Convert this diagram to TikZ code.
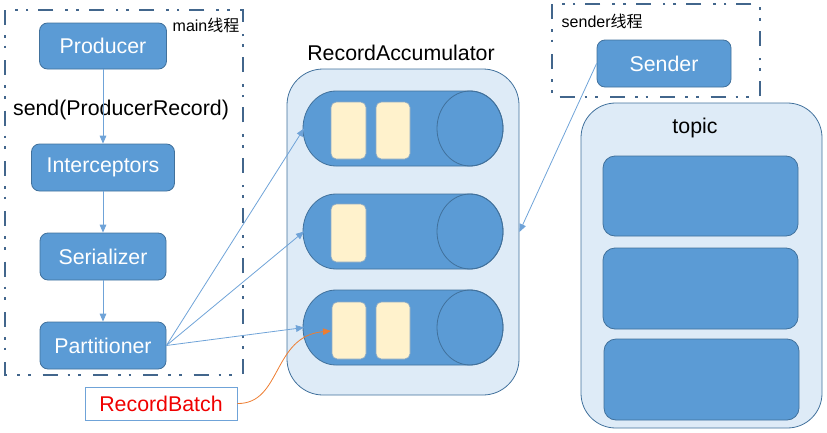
\documentclass[tikz,border=0pt]{standalone}
\usepackage{fontspec}
\setmainfont{Liberation Sans}
\newfontfamily\cjk{Noto Sans CJK SC}
\usetikzlibrary{arrows.meta}
\definecolor{mblue}{HTML}{5B9BD5}
\definecolor{dblue}{HTML}{41719C}
\definecolor{lblue}{HTML}{DEEBF7}
\definecolor{dashc}{HTML}{42668C}
\definecolor{cream}{HTML}{FFF2CC}
\definecolor{orng}{HTML}{ED7D31}
\definecolor{lnblue}{HTML}{6FA3D8}
\definecolor{rbred}{HTML}{F00000}
\tikzset{
  big/.style={font=\fontsize{16}{19}\selectfont},
  small/.style={font=\fontsize{12}{14}\selectfont},
  bluebox/.style={draw=dblue, fill=mblue, line width=0.6pt, rounded corners=6pt, text=white, big, inner sep=0pt},
  threadbox/.style={draw=dashc, line width=2pt, dash pattern=on 11.25pt off 7.5pt on 2pt off 6pt on 2pt off 9pt},
  cont/.style={draw=dblue, fill=lblue, line width=0.6pt},
  cyl/.style={draw=dblue, fill=mblue, line width=0.6pt},
  batch/.style={draw=dblue!60, fill=cream, line width=0.5pt, rounded corners=4pt},
  part/.style={draw=dblue, fill=mblue, line width=0.6pt, rounded corners=9pt},
  conn/.style={draw=lnblue, line width=0.6pt, -{Triangle[length=6pt,width=5pt]}},
}
\begin{document}
\begin{tikzpicture}[x=0.75pt, y=-0.75pt]
\useasboundingbox (0,0) rectangle (827,432);
% main thread box
\draw[threadbox] (5,10) rectangle (243,375);
\node[small, anchor=west] (mainlbl) at (168,25) {main{\cjk 线程}};
\node[bluebox, minimum width=95.25pt, minimum height=34.5pt] (prod) at (103,46) {Producer};
\node[bluebox, minimum width=107.25pt, minimum height=35.25pt] (inter) at (103,167.5) {Interceptors};
\node[bluebox, minimum width=94.5pt, minimum height=35.25pt] (ser) at (103,256.5) {Serializer};
\node[bluebox, minimum width=94.5pt, minimum height=35.25pt] (part) at (103,345.5) {Partitioner};
\node[big] (send) at (121,110) {send(ProducerRecord)};
\draw[conn] (prod) -- (inter);
\draw[conn] (inter) -- (ser);
\draw[conn] (ser) -- (part);
% RecordBatch label
\node[draw=lnblue, fill=white, line width=0.6pt, minimum width=114pt, minimum height=24.75pt, inner sep=0pt, big, text=rbred] (rb) at (161,403.5) {RecordBatch};
% accumulator
\node[big] (acctitle) at (401,53) {RecordAccumulator};
\node[cont, rounded corners=27pt, minimum width=174pt, minimum height=244.5pt, inner sep=0pt] (acc) at (403,232) {};
% cylinders
\foreach \yc/\nm in {128.5/c1, 231.5/c2, 327.5/c3}{
  \path[cyl] (336,\yc-37.5) -- (470,\yc-37.5) arc[start angle=-90, end angle=90, x radius=33, y radius=37.5]
     -- (336,\yc+37.5) arc[start angle=90, end angle=270, x radius=33, y radius=37.5] -- cycle;
  \draw[dblue, line width=0.6pt] (470,\yc) ellipse[x radius=33, y radius=37.5];
  \coordinate (\nm) at (304,\yc);
}
% batches
\draw[batch] (331,102) rectangle (366,159);
\draw[batch] (376,102) rectangle (410,159);
\draw[batch] (331,204) rectangle (366,262);
\draw[batch] (332,302) rectangle (366,359);
\draw[batch] (376,302) rectangle (410,359);
\coordinate (b3) at (331,331);
\draw[conn] (part.east) -- (c1);
\draw[conn] (part.east) -- (c2);
\draw[conn] (part.east) -- (c3);
\draw[draw=orng, line width=0.6pt, -{Triangle[length=6pt,width=5pt]}] (rb.east) .. controls (282,404) and (272,336) .. (b3);
% sender thread
\draw[threadbox] (552,4) rectangle (760,97);
\node[small, anchor=west] (sendlbl) at (557,21) {sender{\cjk 线程}};
\node[bluebox, minimum width=100.5pt, minimum height=35.25pt] (sender) at (664,63.5) {Sender};
\draw[conn] (sender.west) -- (acc.east);
% topic
\node[cont, rounded corners=26pt, minimum width=180.75pt, minimum height=243.75pt, inner sep=0pt] (topic) at (701.5,265.5) {};
\node[big] (topiclbl) at (695,128) {topic};
\node[part, minimum width=146.25pt, minimum height=60pt, inner sep=0pt] (p1) at (700.5,196) {};
\node[part, minimum width=146.25pt, minimum height=60.75pt, inner sep=0pt] (p2) at (700.5,288.5) {};
\node[part, minimum width=146.25pt, minimum height=60.75pt, inner sep=0pt] (p3) at (701.5,379.5) {};
\end{tikzpicture}
\end{document}
